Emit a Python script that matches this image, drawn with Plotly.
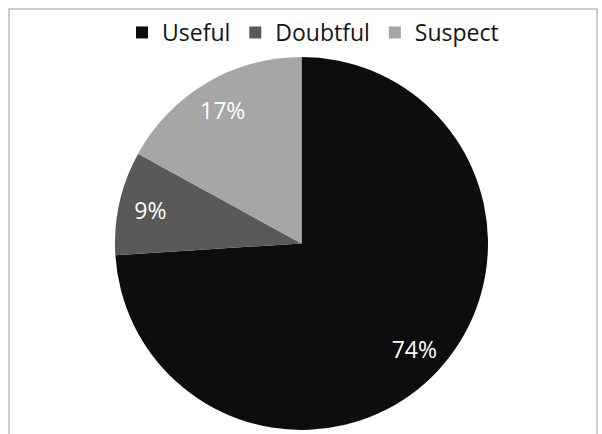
import plotly.graph_objects as go

labels = ["Useful", "Doubtful", "Suspect"]
values = [74, 9, 17]
colors = ["#0d0d0d", "#595959", "#a6a6a6"]

W, H = 602, 434
dom = dict(x=[114 / W, 489 / W], y=[1 - 430 / H, 1 - 57 / H])

# Visible pie (no text)
pie = go.Pie(
    labels=labels,
    values=values,
    sort=False,
    direction="clockwise",
    rotation=0,
    marker=dict(colors=colors, line=dict(width=0)),
    textinfo="none",
    domain=dom,
    hoverinfo="label+percent",
    showlegend=True,
)

# Transparent ring used only to place the percent labels further out
ring = go.Pie(
    labels=labels,
    values=values,
    sort=False,
    direction="clockwise",
    rotation=0,
    hole=0.66,
    marker=dict(colors=["rgba(0,0,0,0)"] * len(values), line=dict(width=0)),
    texttemplate="%{percent:.0%}",
    textposition="inside",
    insidetextorientation="horizontal",
    textfont=dict(color="white", size=23, family="Open Sans"),
    domain=dom,
    hoverinfo="skip",
    showlegend=False,
)

fig = go.Figure([pie, ring])

fig.update_layout(
    width=W,
    height=H,
    margin=dict(l=0, r=0, t=0, b=0),
    paper_bgcolor="white",
    plot_bgcolor="white",
    legend=dict(
        orientation="h",
        x=0.5 + 12 / W, xanchor="center",
        y=1 - 11 / H, yanchor="top",
        font=dict(size=23, color="#141414", family="Open Sans"),
        itemwidth=30,
        tracegroupgap=0,
    ),
    shapes=[dict(
        type="rect", xref="paper", yref="paper",
        x0=9 / W, x1=597 / W, y0=-0.05, y1=1 - 9 / H,
        line=dict(color="#bcbcbc", width=1.5),
        fillcolor="rgba(0,0,0,0)",
        layer="below",
    )],
)

fig.write_html("out.html")
